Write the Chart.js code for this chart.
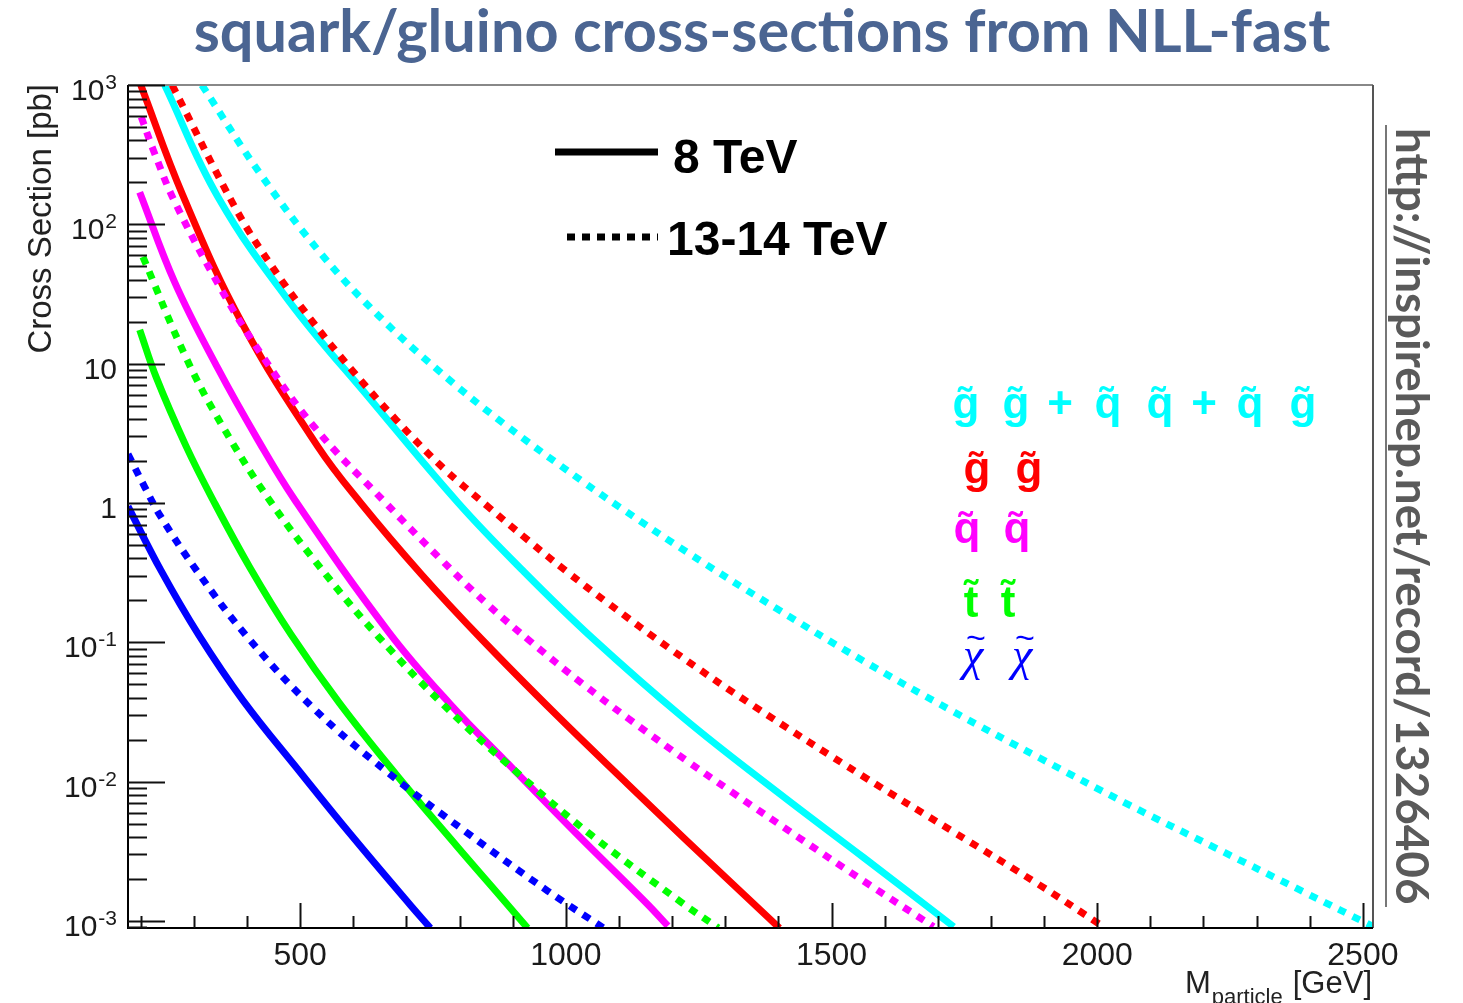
<!DOCTYPE html>
<html lang="en">
<head>
<meta charset="UTF-8">
<title>squark/gluino cross-sections from NLL-fast</title>
<script src="https://cdn.jsdelivr.net/npm/chart.js"></script>
<style>
    body {
        margin: 0;
        background: #ffffff;
    }
    #wrap {
        width: 1463px;
        height: 1003px;
    }
</style>
</head>
<body>
<div id="wrap"><canvas id="xsecChart" width="1463" height="1003"></canvas></div>

<script>
// masses in GeV, cross sections in pb

// chargino/neutralino pair
const massChi8   = [176, 238, 309, 392, 500, 594, 708, 745];
const xsecChi8   = [0.944, 0.328, 0.113, 0.0385, 0.01167, 0.00422, 0.00129, 0.00089];
const massChi13  = [176, 208, 238, 306, 400, 527, 664, 815, 966, 1075];
const xsecChi13  = [2.24, 1.29, 0.794, 0.324, 0.110, 0.0331, 0.0117, 0.00427, 0.00164, 0.00087];

// stop pair
const massStop8  = [198, 229, 285, 336, 405, 483, 574, 681, 795, 885, 928];
const xsecStop8  = [17.5, 8.0, 2.57, 1.05, 0.346, 0.1135, 0.0366, 0.01122, 0.00344, 0.00138, 0.00089];
const massStop13 = [204, 285, 352, 446, 554, 647, 768, 916, 1049, 1218, 1287];
const xsecStop13 = [58.5, 11.1, 3.66, 1.0, 0.288, 0.110, 0.0361, 0.01094, 0.0041, 0.001355, 0.00089];

// squark pair
const massSq8    = [198, 264, 345, 420, 490, 667, 781, 902, 1023, 1151, 1192];
const xsecSq8    = [170, 38.3, 9.27, 2.86, 1.05, 0.118, 0.0365, 0.0122, 0.00412, 0.00135, 0.00092];
const massSq13   = [201, 225, 264, 349, 430, 530, 661, 761, 848, 936, 1030, 1117, 1230, 1312, 1437, 1560, 1692];
const xsecSq13   = [589, 331, 145, 35.4, 11.2, 3.39, 1.0, 0.407, 0.194, 0.0995, 0.0509, 0.0285, 0.0139, 0.00845, 0.0040, 0.00194, 0.00091];

// gluino pair
const massGl8    = [200, 279, 392, 533, 614, 728, 843, 983, 1117, 1229, 1402];
const xsecGl8    = [1000, 162, 19.1, 2.55, 1.0, 0.308, 0.1038, 0.0299, 0.00955, 0.00372, 0.00089];
const massGl13   = [259, 379, 446, 520, 597, 681, 768, 855, 929, 1002, 1077, 1203, 1354, 1560, 1726, 1891, 2015];
const xsecGl13   = [1000, 129, 50.5, 20.8, 9.04, 3.94, 1.80, 0.931, 0.54, 0.321, 0.194, 0.0861, 0.0348, 0.01089, 0.00444, 0.001816, 0.00089];

// gg + qq + qg total
const massTot8   = [245, 345, 480, 634, 798, 916, 1049, 1224, 1395, 1560, 1730];
const xsecTot8   = [1000, 158, 27.8, 5.44, 0.995, 0.336, 0.108, 0.0281, 0.0086, 0.00286, 0.00091];
const massTot13  = [315, 426, 540, 647, 761, 882, 1030, 1104, 1229, 1395, 1560, 1726, 1891, 2057, 2222, 2388, 2525];
const xsecTot13  = [1000, 227, 61.1, 22.2, 8.87, 3.74, 1.44, 0.918, 0.441, 0.176, 0.0735, 0.0323, 0.01483, 0.0069, 0.00335, 0.00162, 0.00089];

// axes
const xRange      = [176, 2519];
const yRange      = [8.9e-4, 1000];
const xLabelTicks = [500, 1000, 1500, 2000, 2500];
const yDecades    = [1e-3, 1e-2, 1e-1, 1, 10, 100, 1000];
const yLabelBase  = ['10', '10', '10', '1', '10', '10', '10'];
const yLabelExp   = ['-3', '-2', '-1', '', '', '2', '3'];

const CYAN = '#00ffff', RED = '#ff0000', MAGENTA = '#ff00ff', GREEN = '#00ff00', BLUE = '#0000ff';

function curve(masses, xsecs, color, dotted) {
    return {
        data: masses.map((m, i) => ({ x: m, y: xsecs[i] })),
        borderColor: color,
        borderWidth: 7,
        borderDash: dotted ? [8, 8] : [],
        borderCapStyle: 'butt',
        pointRadius: 0,
        fill: false,
        clip: 0,
        tension: 0.4
    };
}

function fitFont(ctx, text, weight, family, width) {
    ctx.font = weight + ' 100px ' + family;
    const size = 100 * width / ctx.measureText(text).width;
    return weight + ' ' + size.toFixed(1) + 'px ' + family;
}

// ROOT-like frame: inward ticks, exponent labels, legend and annotations
const rootFrame = {
    id: 'rootFrame',
    afterDatasetsDraw(chart) {
        const { ctx, chartArea: a } = chart;
        const xs = chart.scales.x, ys = chart.scales.y;
        ctx.save();

        // frame
        ctx.lineWidth = 2;
        ctx.strokeStyle = '#888';
        ctx.beginPath(); ctx.moveTo(a.left, a.top); ctx.lineTo(a.right, a.top); ctx.stroke();
        ctx.strokeStyle = '#555';
        ctx.beginPath(); ctx.moveTo(a.right, a.top); ctx.lineTo(a.right, a.bottom); ctx.stroke();
        ctx.strokeStyle = '#000';
        ctx.beginPath(); ctx.moveTo(a.left, a.top); ctx.lineTo(a.left, a.bottom); ctx.lineTo(a.right, a.bottom); ctx.stroke();

        // x ticks every 100 GeV, long ones at the labelled values
        ctx.strokeStyle = '#111';
        ctx.lineWidth = 2;
        for (let m = 200; m <= 2500; m += 100) {
            const px = Math.round(xs.getPixelForValue(m)) + 0.5;
            const len = xLabelTicks.includes(m) ? 25 : 12;
            ctx.beginPath(); ctx.moveTo(px, a.bottom); ctx.lineTo(px, a.bottom - len); ctx.stroke();
        }
        // y ticks: decades plus 2..9 minor
        for (let k = -4; k <= 3; k++) {
            for (let s = 1; s <= 9; s++) {
                const v = s * Math.pow(10, k);
                if (v < yRange[0] * 1.01 || v > yRange[1] * 1.001) continue;
                const py = Math.round(ys.getPixelForValue(v)) + 0.5;
                const len = s === 1 ? 37 : 19;
                ctx.beginPath(); ctx.moveTo(a.left, py); ctx.lineTo(a.left + len, py); ctx.stroke();
            }
        }

        // tick labels
        ctx.fillStyle = '#1a1a1a';
        ctx.textBaseline = 'alphabetic';
        ctx.textAlign = 'center';
        ctx.font = '32px "Liberation Sans", Arial, sans-serif';
        xLabelTicks.forEach(v => {
            ctx.fillText(String(v), xs.getPixelForValue(v), 965);
        });
        ctx.textAlign = 'right';
        yDecades.forEach((v, i) => {
            const base = ys.getPixelForValue(v) + 15;
            let right = 117;
            if (yLabelExp[i]) {
                ctx.font = '21px "Liberation Sans", Arial, sans-serif';
                ctx.fillText(yLabelExp[i], right, base - 11);
                right -= ctx.measureText(yLabelExp[i]).width + 1;
            }
            ctx.font = '30px "Liberation Sans", Arial, sans-serif';
            ctx.fillText(yLabelBase[i], right, base);
        });

        // axis titles
        ctx.fillStyle = '#222';
        ctx.save();
        ctx.translate(51, 84);
        ctx.rotate(-Math.PI / 2);
        ctx.textAlign = 'right';
        ctx.font = '33px "Liberation Sans", Arial, sans-serif';
        ctx.fillText('Cross Section [pb]', 0, 0);
        ctx.restore();

        ctx.textAlign = 'right';
        ctx.font = '31px "Liberation Sans", Arial, sans-serif';
        ctx.fillText('[GeV]', 1372, 993);
        const gevW = ctx.measureText('[GeV]').width;
        ctx.font = '22px "Liberation Sans", Arial, sans-serif';
        ctx.fillText('particle', 1372 - gevW - 10, 1004);
        const partW = ctx.measureText('particle').width;
        ctx.font = '31px "Liberation Sans", Arial, sans-serif';
        ctx.fillText('M', 1372 - gevW - 10 - partW - 1, 993);

        // energy legend
        ctx.strokeStyle = '#000';
        ctx.lineWidth = 7;
        ctx.lineCap = 'butt';
        ctx.beginPath(); ctx.moveTo(555, 152); ctx.lineTo(658, 152); ctx.stroke();
        ctx.setLineDash([8, 7]);
        ctx.beginPath(); ctx.moveTo(567, 237); ctx.lineTo(658, 237); ctx.stroke();
        ctx.setLineDash([]);
        ctx.fillStyle = '#000';
        ctx.textAlign = 'left';
        ctx.font = 'bold 48px "Liberation Sans", Arial, sans-serif';
        ctx.fillText('8 TeV', 673, 173);
        ctx.fillText('13-14 TeV', 667, 255);

        // process labels
        const latin = 'bold 44px "Liberation Sans", Arial, sans-serif';
        const rows = [
            { color: CYAN,    base: 418, tokens: ['g\u0303', 'g\u0303', '+', 'q\u0303', 'q\u0303', '+', 'q\u0303', 'g\u0303'],
              centers: [966, 1016, 1060, 1108, 1160, 1204, 1250, 1303] },
            { color: RED,     base: 483, tokens: ['g\u0303', 'g\u0303'], centers: [977, 1029] },
            { color: MAGENTA, base: 543, tokens: ['q\u0303', 'q\u0303'], centers: [967, 1017] },
            { color: GREEN,   base: 617, tokens: ['t\u0303', 't\u0303'], centers: [971, 1008] }
        ];
        ctx.textAlign = 'center';
        rows.forEach(r => {
            ctx.fillStyle = r.color;
            ctx.font = latin;
            r.tokens.forEach((t, i) => ctx.fillText(t, r.centers[i], r.base));
        });
        // chi with a separate wide tilde above
        ctx.fillStyle = BLUE;
        [973, 1022].forEach(cx => {
            ctx.font = 'italic 46px "Liberation Serif", serif';
            ctx.fillText('\u03c7', cx, 670);
            ctx.font = '34px "Liberation Sans", Arial, sans-serif';
            ctx.fillText('~', cx + 3, 649);
        });

        ctx.restore();
    },
    afterDraw(chart) {
        const ctx = chart.ctx;
        ctx.save();
        // page title
        const title = 'squark/gluino cross-sections from NLL-fast';
        ctx.font = fitFont(ctx, title, 'bold', 'Lato, "Open Sans", sans-serif', 1137);
        ctx.fillStyle = '#4b6592';
        ctx.textAlign = 'center';
        ctx.textBaseline = 'alphabetic';
        ctx.fillText(title, 762, 52);

        // vertical source link, underlined
        const url = 'http://inspirehep.net/record/1326406';
        ctx.translate(1396, 128);
        ctx.rotate(Math.PI / 2);
        ctx.font = fitFont(ctx, url, 'bold', 'Lato, "Open Sans", sans-serif', 777);
        ctx.fillStyle = '#5a5a5a';
        ctx.textAlign = 'left';
        ctx.fillText(url, 0, 0);
        ctx.strokeStyle = '#777';
        ctx.lineWidth = 2;
        ctx.beginPath(); ctx.moveTo(-3, 10); ctx.lineTo(779, 10); ctx.stroke();
        ctx.restore();
    }
};

const datasets = [
    curve(massTot13,  xsecTot13,  CYAN,    true),
    curve(massGl13,   xsecGl13,   RED,     true),
    curve(massSq13,   xsecSq13,   MAGENTA, true),
    curve(massStop13, xsecStop13, GREEN,   true),
    curve(massChi13,  xsecChi13,  BLUE,    true),
    curve(massTot8,   xsecTot8,   CYAN,    false),
    curve(massGl8,    xsecGl8,    RED,     false),
    curve(massSq8,    xsecSq8,    MAGENTA, false),
    curve(massStop8,  xsecStop8,  GREEN,   false),
    curve(massChi8,   xsecChi8,   BLUE,    false)
];

new Chart(document.getElementById('xsecChart'), {
    type: 'line',
    data: { datasets: datasets },
    options: {
        responsive: false,
        devicePixelRatio: 1,
        animation: false,
        layout: { padding: { top: 85, right: 90, left: 0, bottom: 0 } },
        plugins: {
            legend: { display: false },
            tooltip: { enabled: false }
        },
        scales: {
            x: {
                type: 'linear',
                min: xRange[0],
                max: xRange[1],
                ticks: { display: false },
                grid: { display: false },
                border: { display: false },
                afterFit: s => { s.height = 75; }
            },
            y: {
                type: 'logarithmic',
                min: yRange[0],
                max: yRange[1],
                ticks: { display: false },
                grid: { display: false },
                border: { display: false },
                afterFit: s => { s.width = 128; }
            }
        }
    },
    plugins: [rootFrame]
});
</script>
</body>
</html>
